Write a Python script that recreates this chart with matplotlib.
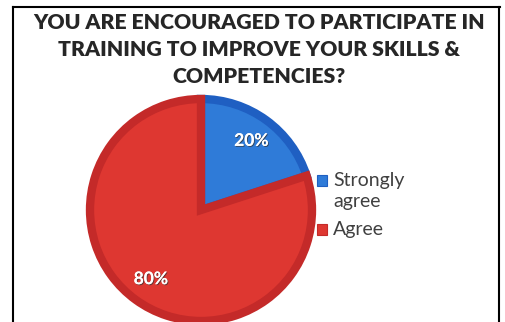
import matplotlib
matplotlib.use("Agg")
import matplotlib.pyplot as plt
import matplotlib.patheffects as pe
from matplotlib.lines import Line2D
from matplotlib.patches import Rectangle

W, H, DPI = 506, 322, 100

title_lines = ["YOU ARE ENCOURAGED TO PARTICIPATE IN",
               "TRAINING TO IMPROVE YOUR SKILLS &",
               "COMPETENCIES?"]
categories = ["Strongly\nagree", "Agree"]
values = [20, 80]
face_colors = ["#2F7BD8", "#DE3731"]
edge_colors = ["#1F5FC2", "#C42A29"]

fig = plt.figure(figsize=(W / DPI, H / DPI), dpi=DPI)
fig.patch.set_facecolor("white")

def px(x, y):
    return x / W, 1 - y / H

# frame around the chart
for (x0, y0), (x1, y1) in [((13.5, 7), (13.5, 322)), ((13, 7), (500, 7)), ((499.5, 7), (499.5, 322))]:
    a, b = px(x0, y0)
    c, d = px(x1, y1)
    fig.add_artist(Line2D([a, c], [b, d], color="black", lw=1.5, transform=fig.transFigure))

# title
for i, line in enumerate(title_lines):
    fig.text(*px(259, 29 + 27 * i), line, ha="center", va="baseline",
             fontfamily="Lato", fontweight="heavy", fontsize=15.3, color="#262626")

# pie
cx, cy, r = 201, 210, 111
ax = fig.add_axes([(cx - r) / W, 1 - (cy + r) / H, 2 * r / W, 2 * r / H])
wedges, _, autotexts = ax.pie(values, colors=face_colors, startangle=90, counterclock=False,
                              autopct="%d%%", pctdistance=0.77, radius=1,
                              textprops=dict(color="white", fontfamily="Lato",
                                             fontweight="bold", fontsize=12.5))
for w, ec in zip(wedges, edge_colors):
    w.set_edgecolor(ec)
    w.set_linewidth(6)
    w.set_clip_path(w)
for t in autotexts:
    t.set_path_effects([pe.withSimplePatchShadow(offset=(0.7, -0.7), shadow_rgbFace="#333333", alpha=0.7),
                        pe.Normal()])
ax.set_xlim(-1, 1)
ax.set_ylim(-1, 1)
ax.set_aspect("equal")
ax.axis("off")

# legend
legend_y = [175, 224]
for lab, fc, ec, y in zip(categories, face_colors, edge_colors, legend_y):
    fig.add_artist(Rectangle(px(317, y + 11), 10 / W, 11 / H, facecolor=fc, edgecolor=ec,
                             lw=0.8, transform=fig.transFigure))
    fig.text(*px(333, y - 3), lab, ha="left", va="top", fontfamily="Lato",
             fontsize=14, color="#404040", linespacing=1.3)

fig.savefig("out.png", dpi=DPI)
